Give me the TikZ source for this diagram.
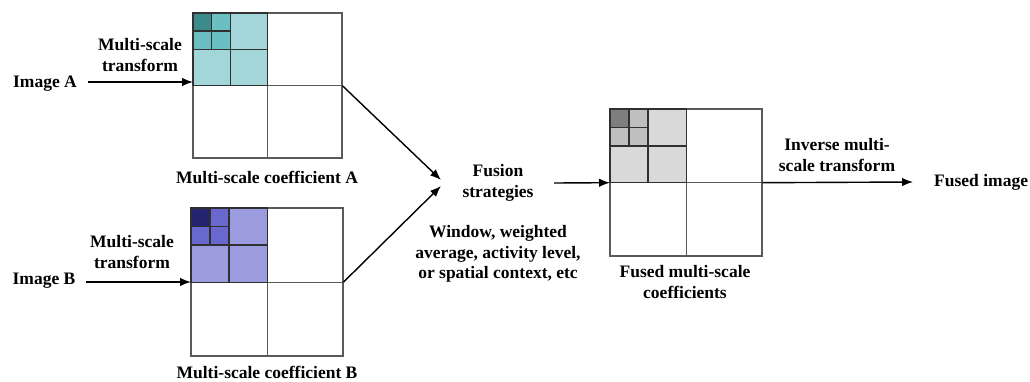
\documentclass[tikz,border=0pt]{standalone}
\usepackage{fontspec}
\setmainfont{Liberation Serif}
\usetikzlibrary{arrows.meta,calc}
\definecolor{gridgray}{HTML}{5A5A5A}
\definecolor{cellline}{HTML}{303030}
\definecolor{aDark}{HTML}{3C8A8C}
\definecolor{aMid}{HTML}{6BBFC3}
\definecolor{aLight}{HTML}{A2D6D9}
\definecolor{bDark}{HTML}{24246E}
\definecolor{bMid}{HTML}{6868CF}
\definecolor{bLight}{HTML}{9B9BE0}
\definecolor{fDark}{HTML}{7F7F7F}
\definecolor{fMid}{HTML}{BFBFBF}
\definecolor{fLight}{HTML}{D9D9D9}
\tikzset{
  lbl/.style={font=\bfseries\fontsize{17.5}{20.5}\selectfont, align=center, inner sep=1pt},
  gridbox/.style={draw=gridgray, line width=1.4pt, inner sep=0pt, anchor=north west},
  flow/.style={line width=1.4pt, -{Latex[length=11pt,width=8.5pt]}},
}
% #1 name, #2 x0, #3 y0, #4 width, #5 height, #6 dark, #7 mid, #8 light
\newcommand{\coefgrid}[8]{%
  \node[gridbox, minimum width=#4pt, minimum height=#5pt] (#1) at (#2,#3) {};
  \coordinate (#1q) at ($(#1.north west)!0.5!(#1.center)$);
  \coordinate (#1r) at ($(#1.north west)!0.5!(#1q)$);
  \fill[#8] (#1.north west) rectangle (#1.center);
  \fill[#7] (#1.north west) rectangle (#1q);
  \fill[#6] (#1.north west) rectangle (#1r);
  \draw[gridgray, line width=1.4pt] (#1.north west) rectangle (#1.south east)
     (#1.north) -- (#1.south) (#1.west) -- (#1.east);
  \draw[cellline, line width=1.4pt]
     (#1.north west) rectangle (#1.center)
     (#1q |- #1.north) -- (#1q |- #1.center)
     (#1q -| #1.west) -- (#1q -| #1.center)
     (#1r |- #1.north) -- (#1r |- #1q)
     (#1r -| #1.west) -- (#1r -| #1q);
}
\begin{document}
\begin{tikzpicture}[x=1pt, y=-1pt]
\useasboundingbox (0,0) rectangle (1030,382);

\coefgrid{gA}{193}{13}{148}{144}{aDark}{aMid}{aLight}
\coefgrid{gB}{191}{208}{151}{147}{bDark}{bMid}{bLight}
\coefgrid{gF}{610}{109}{151}{146}{fDark}{fMid}{fLight}

\node[lbl] (imgA) at (45,84) {Image A};
\node[lbl] (imgB) at (44,281) {Image B};
\node[lbl] (trA) at (140,55) {Multi-scale\\transform};
\node[lbl] (trB) at (132,252) {Multi-scale\\transform};
\node[lbl] (capA) at (267,177) {Multi-scale coefficient A};
\node[lbl] (capB) at (267,372) {Multi-scale coefficient B};
\node[lbl] (fusion) at (498,183) {Fusion\\strategies};
\node[lbl] (rules) at (498,254) {Window, weighted\\average, activity level,\\or spatial context, etc};
\node[lbl] (capF) at (685,282) {Fused multi-scale\\coefficients};
\node[lbl] (inv) at (837,155) {Inverse multi-\\scale transform};
\node[lbl, anchor=west] (out) at (933,182) {Fused image};

\coordinate (finA) at (441,180);
\coordinate (finB) at (441,186);
\coordinate (fout) at (554,183);
\coordinate (outIn) at (913,182);
\coordinate (aIn) at (88,82);
\coordinate (bIn) at (86,282);

\draw[flow] (aIn) -- (aIn -| gA.west);
\draw[flow] (bIn) -- (bIn -| gB.west);
\draw[flow] (gA.east) -- (finA);
\draw[flow] (gB.east) -- (finB);
\draw[flow] (fout) -- (gF.west);
\draw[flow] (gF.east) -- (outIn);
\end{tikzpicture}
\end{document}
